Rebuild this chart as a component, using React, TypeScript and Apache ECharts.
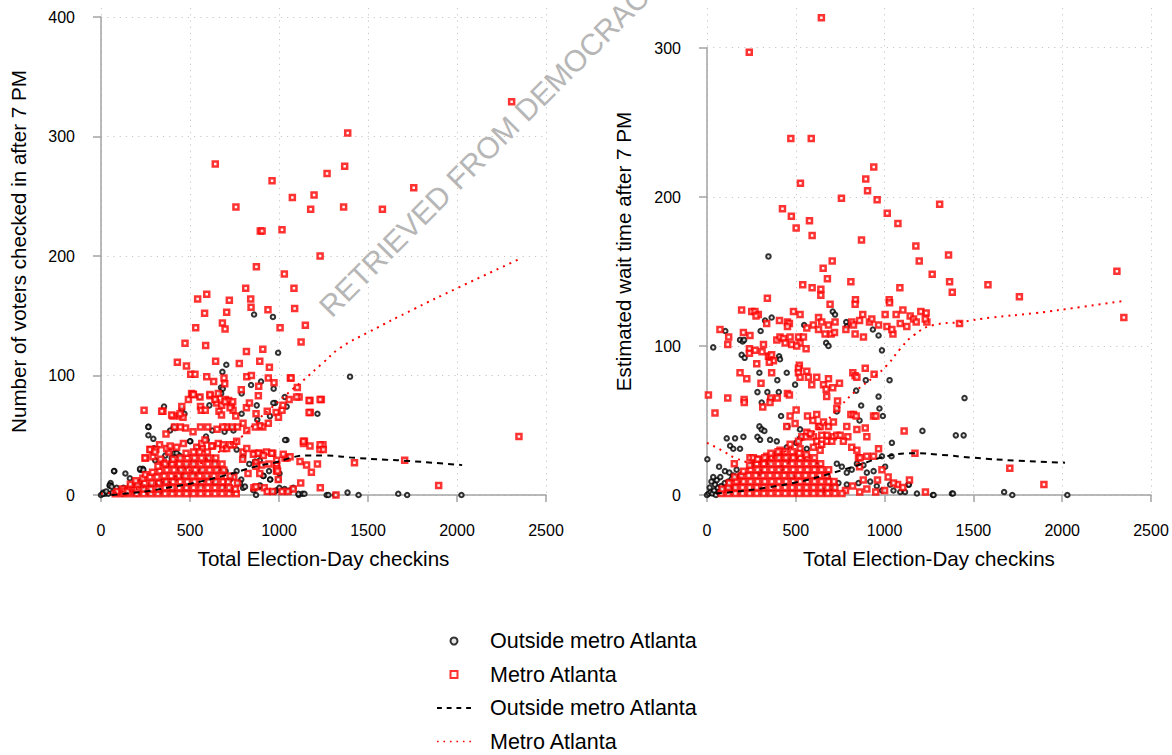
import React, { useEffect, useRef } from "react";
import * as echarts from "echarts";

const FONT = "'Liberation Sans', Arial, Helvetica, sans-serif";

const xTitle = "Total Election-Day checkins";
const leftYTitle = "Number of voters checked in after 7 PM";
const rightYTitle = "Estimated wait time after 7 PM";
const outsideName = "Outside metro Atlanta";
const metroName = "Metro Atlanta";
// line series carry a trailing space so the legend keeps them as separate entries
const outsideFitName = "Outside metro Atlanta ";
const metroFitName = "Metro Atlanta ";
const watermark = "RETRIEVED FROM DEMOCRACY DOCKET";

const xRange = [0, 2500];
const leftYRange = [0, 400];
const rightYRange = [0, 300];

// ---- Left panel: voters checked in after 7 PM ----
const leftOutside: number[][] = [
  [860,151],[966,149],[995,119],[704,109],[682,103],[1399,99],[1216,68],[1042,46],[843,92],[899,95],[970,89],[674,90],
  [684,89],[675,85],[554,82],[609,75],[978,77],[949,66],[878,63],[1032,82],
  [267,57],[354,74],[408,57],[454,72],[469,68],[502,45],[413,35],[298,39],[304,29],[235,22],[221,21],[137,18],[75,20],
  [54,10],[48,8],[162,14],[294,38],[361,33],[440,33],[590,49],[625,54],[694,53],[742,56],[798,32],[892,29],[951,13],
  [1003,18],[1032,5],[1080,6],[1111,0],[1132,1],[1143,1],[986,4],[976,3],[892,7],[913,16],[788,13],[798,6],[684,7],
  [730,4],[871,0],[73,20],[219,22],[238,21],[266,50],[294,47],[266,57],[388,54],[416,56],[425,35],[397,31],[500,45],
  [547,40],[594,46],[706,56],[744,54],[762,38],[790,68],[790,85],[875,75],[968,77],[1043,74],[1034,46],[987,26],
  [996,13],[950,13],[912,16],[893,8],[856,4],[809,7],[781,10],[725,13],[762,20],[833,26],[865,28],[944,20],[1002,6],
  [1062,4],[1109,1],[1268,0],[1315,0],[1278,0],[1385,2],[1447,0],[1670,1],[1720,0],[2025,0],
  [51,8],[60,7],[88,6],[126,6],[163,8],[200,10],[219,11],[23,1],[41,1],[13,2],[0,0],[10,1],[30,3],[65,2],[100,3],
  [150,4],[180,5],[240,6],[280,8],[320,10],[350,12],[380,9],[420,14],[460,16],[520,18],[560,20],[600,14],[640,10],
  [660,22],[560,8],[480,6],[400,4],[330,3],[270,2],[200,1],[120,1],
  [369,25],[397,28],[444,22],[480,24],[520,28],[600,30],[640,28],[700,20],[740,16]
];

const leftMetro: number[][] = [
  [642,277],[758,241],[895,221],[905,221],[961,263],[1017,222],[1075,249],[1197,251],[1178,239],[1270,269],[1369,275],
  [1386,303],[1363,241],[1231,200],[873,191],[1030,185],[1581,239],[1757,257],[2307,329],[813,173],[1084,173],[594,168],
  [543,164],[721,163],[841,164],[843,157],[582,152],[706,153],[938,155],[1088,156],[682,144],[697,139],[532,140],
  [1006,140],[1148,142],[472,127],[588,125],[1124,128],[817,120],[909,122],[429,111],[480,108],[644,112],[777,110],
  [892,112],[946,107],[504,101],[528,101],[594,99],[691,98],[819,99],[845,100],[1064,98],[940,98],[633,95],[695,93],
  [886,91],[1103,90],
  [2348,49],[1706,29],[1424,27],[1897,8],[1320,0],
  [242,71],[348,70],[404,66],[454,74],[442,66],[461,65],[509,85],[517,84],[559,74],[563,71],[586,71],[613,83],[642,80],
  [650,77],[663,70],[677,67],[698,80],[717,79],[732,75],[742,71],[757,66],[788,88],[817,73],[834,77],[871,68],[884,83],
  [934,70],[940,60],[984,69],[997,65],[1017,71],[909,57],[892,58],[867,57],[819,54],[798,60],[767,57],[736,57],[705,57],
  [684,57],[652,55],[600,57],[559,57],[517,53],[475,56],[446,57],[413,57],[365,51],[329,42],[308,38],[277,38],[250,31],
  [292,32],[350,27],[413,27],[381,36],[569,39],[627,41],[684,39],[746,42],[798,36],[863,35],[892,35],[930,36],[965,35],
  [1034,31],[1045,31],[1118,28],[1155,25],[986,25],[944,26],[903,25],[871,27],[986,20],[988,22],
  [1174,79],[1238,80],[1176,69],[1247,42],[1230,38],[1216,26],[1182,19],[1232,6],[1122,10],[1143,45],[1138,43],
  [1113,82],[1057,80],[1022,75],[1068,98],[972,94],
  [341,70],[397,67],[444,68],[491,80],[519,84],[556,82],[612,84],[641,80],[659,85],[678,75],[697,78],[725,73],[740,78],
  [1099,82],[1169,79],[1231,80],[1169,69],
  [247,31],[275,38],[303,36],[335,30],[369,39],[388,41],[425,40],[463,43],[538,40],[566,43],[584,46],[622,41],[659,43],
  [687,42],[706,39],[725,42],[762,45],[796,30],[819,39],[856,34],[884,35],[912,33],[959,35],[987,29],[1024,34],[1062,32],
  [1137,45],[1174,41],[1231,42],[1249,38],
  [859,6],[917,6],[934,3],[1017,3],[1051,3],[965,3],[1080,5],[996,13],[992,20],[871,7],[746,15],[767,10],[826,18],
  [871,24],[892,18],
  [80,1],[90,3],[120,1],[120,5],[130,3],[160,1],[160,5],[165,9],[150,3],[200,1],[200,5],[205,9],[195,12],
  [240,1],[240,5],[245,10],[235,14],[250,17],[280,1],[280,5],[285,10],[275,15],[290,19],
  [320,1],[320,5],[325,10],[315,15],[330,20],[320,24],[360,1],[360,6],[365,11],[355,16],[370,21],[360,26],
  [400,1],[400,6],[405,11],[395,16],[410,21],[400,26],[405,30],[440,1],[440,6],[445,11],[435,16],[450,21],[440,26],[445,31],
  [480,1],[480,6],[485,11],[475,16],[490,21],[480,26],[485,31],[478,35],[520,1],[520,6],[525,11],[515,16],[530,21],[520,26],
  [525,31],[520,36],[560,1],[560,6],[565,11],[555,16],[570,21],[560,26],[565,31],[555,36],[600,1],[600,6],[605,11],[595,16],
  [610,21],[600,26],[605,31],[598,36],[640,1],[640,6],[645,11],[635,16],[650,21],[640,26],[645,31],
  [680,1],[680,6],[685,11],[675,16],[690,21],[680,26],[720,1],[720,6],[715,11],[725,16],[760,1],[755,5]
];

const leftOutsideFit: number[][] = [
  [60,0],[125,1],[250,3],[406,7],[550,11],[687,16],[875,24],[1000,28],[1062,31],[1150,33],[1249,33],[1434,31],
  [1600,29.5],[1727,28.5],[2029,25]
];

const leftMetroFit: number[][] = [
  [0,1],[200,5],[400,14],[600,30],[700,40],[800,50],[875,62],[950,72],[1080,89],[1137,96],[1250,111],[1343,123],
  [1500,136],[1764,156],[2000,173],[2344,197]
];

// ---- Right panel: estimated wait time after 7 PM ----
const rightOutside: number[][] = [
  [346,160],[35,99],[103,110],[186,104],[201,103],[209,104],[195,94],[212,92],[302,110],[364,119],[327,117],[406,93],
  [411,91],[295,82],[396,77],[449,82],[284,69],[340,69],[404,69],[496,74],[547,114],[708,123],[721,121],[784,116],
  [787,113],[671,102],[684,100],[985,97],[894,77],[840,70],[966,66],[868,60],[1028,77],[966,107],[934,111],[731,56],
  [859,50],[971,58],[990,53],[308,62],[355,64],[417,53],[453,46],[524,44],[502,35],[295,46],[308,44],[323,43],[284,39],
  [299,37],[355,37],[393,36],[449,32],[524,38],[562,31],[393,28],[411,26],[453,23],[505,26],[111,38],[158,38],[130,33],
  [205,39],[186,31],[148,31],[2,24],[68,19],[101,16],[126,15],[148,13],[167,17],[186,13],
  [0,0],[10,1],[20,2],[30,1],[40,3],[50,0],[60,5],[70,2],[80,6],[90,3],[100,8],[15,5],[45,7],[25,9],[55,10],[110,5],
  [120,9],[130,4],[140,11],[160,7],[35,12],[75,12],
  [731,21],[759,19],[787,15],[815,17],[844,21],[881,20],[900,15],[938,16],[985,26],[1003,19],[1039,26],[1041,35],
  [740,8],[787,7],[853,8],[919,9],[956,6],[985,3],[1050,3],[1088,2],[1135,7],[1182,1],[1272,0],[1379,1],[1031,7],
  [1115,2],[1136,7],[1276,0],[1385,1],[1673,2],[1719,0],[2029,0],[1450,65],[1401,40],[1445,40],[1213,43],
  [250,20],[300,15],[350,22],[420,18],[480,12],[560,25],[620,20],[680,12],[700,5],[650,3]
];

const rightMetro: number[][] = [
  [644,320],[238,297],[472,239],[587,239],[939,220],[894,212],[904,204],[526,209],[757,199],[958,198],[1310,195],
  [425,192],[475,187],[577,184],[502,179],[592,174],[1015,189],[1075,182],[870,171],[1176,167],[1360,161],[1195,157],
  [705,157],[654,152],[678,145],[810,143],[1268,148],[1366,143],[539,141],[592,139],[641,138],[641,134],[1086,139],
  [1381,136],[340,132],[836,131],[1026,131],[2308,150],[1582,141],[1759,133],[2347,119],[1422,115],[1705,18],[1897,7],
  [1110,43],[1171,28],[1230,2],[1073,7],
  [834,128],[693,128],[1028,129],[195,124],[252,123],[270,123],[289,121],[276,120],[336,115],[408,117],[453,116],
  [464,115],[453,113],[487,123],[524,121],[562,112],[599,114],[628,119],[646,116],[628,111],[665,108],[684,114],
  [721,116],[699,108],[718,109],[782,111],[815,116],[825,114],[877,121],[859,117],[834,108],[881,106],[915,116],
  [928,118],[966,114],[1003,121],[1013,113],[1065,121],[1088,115],[1103,124],[1144,120],[1163,118],[1178,116],
  [1204,123],[1234,122],[1238,116],[1229,118],[1125,113],[1047,108],[1041,111],
  [73,111],[122,106],[117,101],[205,109],[242,107],[8,67],[45,55],[117,65],[209,64],[210,62],[239,98],[239,95],[271,97],
  [310,96],[346,93],[355,93],[364,94],[374,90],[351,89],[318,101],[393,104],[411,106],[430,105],[440,102],[468,106],
  [477,101],[515,106],[524,102],[505,100],[543,106],[558,98],[520,87],[515,85],[515,82],[562,83],[524,79],[571,79],
  [618,79],[590,74],[656,74],[671,71],[684,78],[708,72],[746,75],[674,66],
  [186,82],[224,78],[304,75],[280,88],[364,82],[453,68],[464,67],[359,65],[396,65],[314,59],[355,62],
  [821,82],[834,80],[844,79],[891,85],[941,81],[735,63],[731,58],[810,54],[825,54],[840,53],[938,53],[951,53],
  [618,54],[566,53],[502,57],[468,53],[596,50],[628,46],[637,46],[684,46],[712,49],[656,49],
  [966,31],[938,26],[853,25],[859,19],[985,17],[154,21],[148,8],[182,10],
  [449,46],[496,48],[787,46],[844,44],[891,45],[900,39],[793,39],[712,39],[675,40],[646,40],[599,39],[562,42],[534,39],
  [242,25],[261,25],[289,24],[318,21],[336,26],[364,26],[411,30],[468,34],[515,36],[558,39],[581,41],[618,36],[646,34],
  [675,36],[703,36],[731,40],[750,40],[768,36],[815,32],[844,30],[862,25],[900,26],[599,32],[637,30],[524,31],[430,25],
  [487,26],
  [1050,8],[1103,5],[1000,3],[950,2],[900,4],[860,2],[820,6],[780,3],[880,10],[960,10],[1020,12],[1140,10],
  [80,1],[85,4],[120,1],[120,5],[125,8],[160,1],[160,5],[165,9],[155,12],[200,1],[200,5],[205,9],[195,13],[205,16],
  [240,1],[240,5],[245,9],[235,13],[245,17],[240,20],[280,1],[280,5],[285,9],[275,13],[285,17],[280,21],[285,24],
  [320,1],[320,5],[325,9],[315,13],[325,17],[320,21],[325,25],[360,1],[360,5],[365,9],[355,13],[365,17],[360,21],
  [365,25],[360,28],[400,1],[400,5],[405,9],[395,13],[405,17],[400,21],[405,25],[400,29],[440,1],[440,5],[445,9],
  [435,13],[445,17],[440,21],[445,25],[440,29],[480,1],[480,5],[485,9],[475,13],[485,17],[480,21],[485,25],[480,29],
  [520,1],[520,5],[525,9],[515,13],[525,17],[520,21],[525,25],[520,28],[560,1],[560,5],[565,9],[555,13],[565,17],
  [560,21],[565,25],[560,27],[600,1],[600,5],[605,9],[595,13],[605,17],[600,21],[605,25],[640,1],[640,5],[645,9],
  [635,13],[645,17],[640,21],[680,1],[680,5],[685,9],[675,13],[685,17],[720,1],[720,5],[715,9],[760,1]
];

const rightOutsideFit: number[][] = [
  [50,1],[148,2],[336,5],[524,9],[712,15],[850,20],[1013,26],[1163,28],[1313,27],[1501,25],[1750,23],[2016,21.7]
];

const rightMetroFit: number[][] = [
  [0,35],[83,30],[157,25],[250,22],[350,24],[450,30],[550,38],[650,47],[746,59],[840,70],[938,79],[1013,87],
  [1088,98],[1163,107],[1276,114],[1426,116],[1600,119],[1849,122],[2100,126],[2340,130]
];

const axisGray = "#a3a3a3";
const titleSize = 20.6;

const gridLineStyle = { color: "#c6c6c6", width: 1, type: [1.2, 5] as number[] };

// legend glyphs: small square marker, a dashed stroke and a dotted stroke
const squareIcon = "path://M0,0H10V10H0Z";
const dashIcon = "path://M0,0H5V2H0Z M10,0H15V2H10Z M20,0H25V2H20Z M30,0H35V2H30Z";
const dotIcon = "path://M0,0H1.5V1.5H0Z M6,0H7.5V1.5H6Z M12,0H13.5V1.5H12Z M18,0H19.5V1.5H18Z M24,0H25.5V1.5H24Z M30,0H31.5V1.5H30Z";

const plainNumber = (v: number) => String(v);

function dataXAxis(gridIndex: number) {
  return {
    type: "value", gridIndex, min: xRange[0], max: xRange[1], interval: 500,
    axisLine: { show: false }, axisTick: { show: false }, axisLabel: { show: false },
    splitLine: { show: true, lineStyle: gridLineStyle },
  };
}

function frameXAxis(gridIndex: number) {
  return {
    type: "value", gridIndex, min: xRange[0], max: xRange[1], interval: 500, offset: 14,
    axisLine: { show: true, lineStyle: { color: axisGray, width: 1.5 } },
    axisTick: { show: true, length: 7, lineStyle: { color: axisGray, width: 1.5 } },
    axisLabel: { fontSize: 16, color: "#000", fontFamily: FONT, margin: 13, formatter: plainNumber },
    splitLine: { show: false },
    name: xTitle, nameLocation: "middle", nameGap: 38.5,
    nameTextStyle: { fontSize: titleSize, color: "#000", fontFamily: FONT },
  };
}

function dataYAxis(gridIndex: number, max: number, title: string, gap: number) {
  return {
    type: "value", gridIndex, min: 0, max, interval: 100,
    axisLine: { show: false }, axisTick: { show: false }, axisLabel: { show: false },
    splitLine: { show: true, showMaxLine: false, lineStyle: gridLineStyle },
    name: title, nameLocation: "middle", nameRotate: 90, nameGap: gap,
    nameTextStyle: { fontSize: titleSize, color: "#000", fontFamily: FONT },
  };
}

function frameYAxis(gridIndex: number, range: number[]) {
  return {
    type: "value", gridIndex, min: range[0], max: range[1], interval: 100, offset: 13,
    axisLine: { show: true, lineStyle: { color: axisGray, width: 1.5 } },
    axisTick: { show: true, length: 8, lineStyle: { color: axisGray, width: 1.5 } },
    axisLabel: { fontSize: 16, color: "#000", fontFamily: FONT, margin: 13, formatter: plainNumber },
    splitLine: { show: false },
  };
}

const outsideMarker = {
  type: "scatter", symbol: "circle", symbolSize: 4.5,
  itemStyle: { color: "#e2e2e2", borderColor: "#000000", borderWidth: 2 },
  silent: true, z: 2,
};
const metroMarker = {
  type: "scatter", symbol: "rect", symbolSize: 5,
  itemStyle: { color: "#fff4f4", borderColor: "#ff0000", borderWidth: 2.5 },
  silent: true, z: 3,
};
const outsideLine = {
  type: "line", smooth: true, symbol: "none", showSymbol: false, silent: true, z: 4,
  itemStyle: { color: "#000" },
  lineStyle: { color: "#000000", width: 2, type: [6, 5] as number[] },
};
const metroLine = {
  type: "line", smooth: true, symbol: "none", showSymbol: false, silent: true, z: 4,
  itemStyle: { color: "#ff0000" },
  lineStyle: { color: "#ff0000", width: 2, type: [2, 5] as number[] },
};

export default function App() {
  const ref = useRef<HTMLDivElement>(null);

  useEffect(() => {
    if (!ref.current) return;
    const chart = echarts.init(ref.current, undefined, { renderer: "svg" });
    chart.setOption({
      animation: false,
      backgroundColor: "#ffffff",
      textStyle: { fontFamily: FONT },
      grid: [
        { left: 101, top: 8, width: 445, height: 487 },
        { left: 101, top: 17, width: 445, height: 478 },
        { left: 707, top: 8, width: 444, height: 487 },
        { left: 707, top: 48, width: 444, height: 447 },
      ],
      xAxis: [dataXAxis(0), frameXAxis(1), dataXAxis(2), frameXAxis(3)],
      yAxis: [
        dataYAxis(0, 407.5, leftYTitle, 72),
        frameYAxis(1, leftYRange),
        dataYAxis(2, 326.6, rightYTitle, 73),
        frameYAxis(3, rightYRange),
      ],
      legend: {
        orient: "vertical", left: 432, top: 624, height: 200, itemWidth: 34, itemHeight: 7, itemGap: 9.5,
        selectedMode: false,
        data: [
          { name: outsideName, icon: "circle" },
          { name: metroName, icon: squareIcon },
          { name: outsideFitName, icon: dashIcon },
          { name: metroFitName, icon: dotIcon },
        ],
        textStyle: { fontSize: 21.5, color: "#000", fontFamily: FONT, lineHeight: 24, padding: [0, 0, 0, 14] },
      },
      graphic: [
        {
          type: "text", x: 335, y: 322, rotation: Math.PI / 4, z: 20, silent: true,
          style: { text: watermark, fill: "#b6b6b6", fontSize: 30, fontFamily: FONT, align: "left", verticalAlign: "bottom" },
        },
      ],
      series: [
        { ...outsideMarker, name: outsideName, xAxisIndex: 0, yAxisIndex: 0, data: leftOutside },
        { ...metroMarker, name: metroName, xAxisIndex: 0, yAxisIndex: 0, data: leftMetro },
        { ...outsideLine, name: outsideFitName, xAxisIndex: 0, yAxisIndex: 0, data: leftOutsideFit },
        { ...metroLine, name: metroFitName, xAxisIndex: 0, yAxisIndex: 0, data: leftMetroFit },
        { ...outsideMarker, name: outsideName, xAxisIndex: 2, yAxisIndex: 2, data: rightOutside },
        { ...metroMarker, name: metroName, xAxisIndex: 2, yAxisIndex: 2, data: rightMetro },
        { ...outsideLine, name: outsideFitName, xAxisIndex: 2, yAxisIndex: 2, data: rightOutsideFit },
        { ...metroLine, name: metroFitName, xAxisIndex: 2, yAxisIndex: 2, data: rightMetroFit },
      ],
    });
    return () => chart.dispose();
  }, []);

  return (
    <div
      ref={ref}
      style={{ position: "absolute", left: 0, top: 0, width: 1172, height: 755, background: "#fff" }}
    />
  );
}
